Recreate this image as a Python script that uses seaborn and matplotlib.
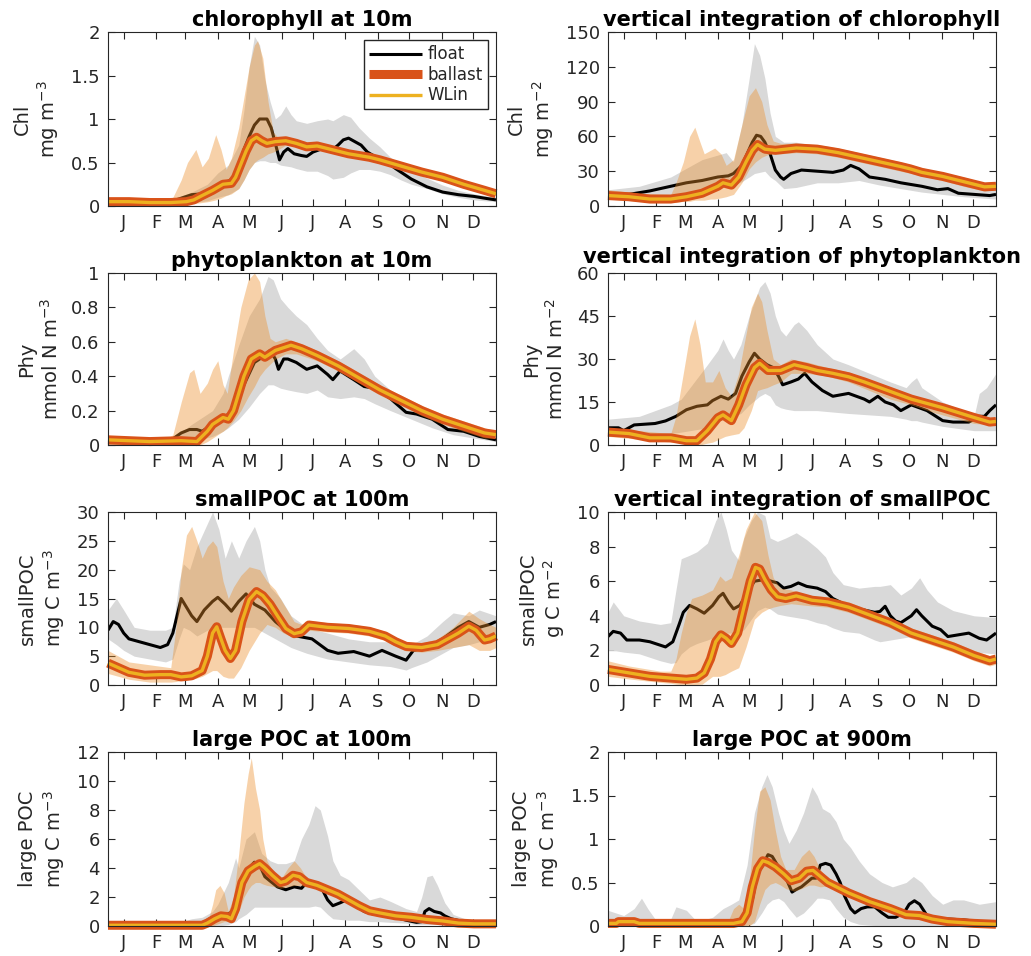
import numpy as np
import matplotlib
matplotlib.use("Agg")
import matplotlib.pyplot as plt
import seaborn as sns

# ---------------- common axis data ----------------
MONTHS = ["J", "F", "M", "A", "M", "J", "J", "A", "S", "O", "N", "D"]
MONTH_DAYS = [15, 46, 74, 105, 135, 166, 196, 227, 258, 288, 319, 349]
XMAX = 371

# ---------------- chlorophyll at 10 m ----------------
chl10_float_x = [0, 30, 60, 70, 80, 90, 100, 110, 120, 125, 130, 135, 140, 145, 152, 156, 160, 164, 168, 172, 178, 185, 190, 196, 205, 215, 220, 225, 230, 236, 242, 248, 255, 265, 275, 290, 305, 320, 335, 350, 360, 371]
chl10_float_y = [0.05, 0.05, 0.05, 0.09, 0.13, 0.14, 0.2, 0.25, 0.32, 0.45, 0.65, 0.8, 0.93, 1.0, 1.0, 0.9, 0.72, 0.53, 0.62, 0.66, 0.6, 0.58, 0.57, 0.62, 0.66, 0.65, 0.7, 0.76, 0.78, 0.74, 0.7, 0.62, 0.57, 0.52, 0.43, 0.31, 0.22, 0.16, 0.13, 0.11, 0.09, 0.07]
chl10_ballast_x = [0, 20, 40, 60, 75, 82, 90, 100, 110, 118, 122, 127, 132, 137, 142, 147, 152, 160, 170, 180, 190, 200, 210, 230, 250, 260, 280, 300, 320, 340, 360, 371]
chl10_ballast_y = [0.05, 0.05, 0.04, 0.04, 0.05, 0.07, 0.12, 0.18, 0.25, 0.26, 0.33, 0.48, 0.63, 0.75, 0.79, 0.75, 0.72, 0.74, 0.75, 0.72, 0.68, 0.69, 0.66, 0.6, 0.56, 0.53, 0.46, 0.39, 0.33, 0.25, 0.18, 0.14]
chl10_fband_x = [0, 60, 80, 95, 105, 115, 125, 130, 135, 140, 145, 150, 155, 160, 165, 170, 175, 180, 190, 200, 210, 215, 225, 232, 240, 250, 260, 270, 280, 290, 305, 320, 335, 350, 371]
chl10_fband_hi = [0.07, 0.07, 0.16, 0.25, 0.38, 0.47, 0.7, 1.1, 1.6, 1.95, 1.85, 1.45, 1.2, 1.0, 1.05, 1.15, 1.05, 0.98, 0.95, 0.98, 1.0, 0.98, 1.05, 1.02, 0.9, 0.78, 0.68, 0.56, 0.48, 0.4, 0.32, 0.24, 0.18, 0.14, 0.1]
chl10_fband_lo = [0.03, 0.03, 0.04, 0.06, 0.1, 0.13, 0.2, 0.3, 0.42, 0.5, 0.52, 0.52, 0.5, 0.5, 0.47, 0.46, 0.45, 0.43, 0.4, 0.4, 0.35, 0.31, 0.33, 0.38, 0.42, 0.42, 0.4, 0.36, 0.3, 0.25, 0.2, 0.14, 0.1, 0.07, 0.05]
chl10_bband_x = [0, 55, 62, 70, 76, 84, 90, 96, 103, 108, 113, 118, 125, 130, 135, 140, 143, 148, 153, 158, 163, 170, 180, 200, 230, 260, 290, 320, 350, 371]
chl10_bband_hi = [0.07, 0.07, 0.1, 0.3, 0.5, 0.65, 0.45, 0.55, 0.82, 0.65, 0.42, 0.55, 0.9, 1.25, 1.6, 1.85, 1.9, 1.7, 1.2, 0.85, 0.78, 0.78, 0.76, 0.72, 0.64, 0.56, 0.47, 0.36, 0.24, 0.17]
chl10_bband_lo = [0.03, 0.03, 0.03, 0.03, 0.03, 0.03, 0.04, 0.05, 0.07, 0.09, 0.12, 0.14, 0.2, 0.3, 0.42, 0.5, 0.53, 0.56, 0.6, 0.62, 0.65, 0.7, 0.69, 0.66, 0.57, 0.5, 0.41, 0.3, 0.2, 0.12]

# ---------------- vertical integration of chlorophyll ----------------
chlint_float_x = [0, 20, 40, 60, 75, 90, 105, 115, 120, 128, 133, 138, 142, 146, 150, 155, 160, 165, 168, 175, 185, 200, 215, 225, 232, 240, 250, 265, 280, 300, 315, 325, 335, 350, 365, 371]
chlint_float_y = [10, 10, 13, 17, 20, 22, 25, 26, 28, 35, 45, 55, 61, 60, 55, 45, 31, 25, 23, 28, 31, 30, 29, 31, 35, 32, 25, 23, 20, 17, 14, 15, 11, 10, 9, 10]
chlint_ballast_x = [0, 20, 40, 60, 75, 90, 105, 110, 118, 125, 132, 138, 143, 150, 160, 180, 200, 220, 240, 260, 280, 289, 300, 320, 340, 360, 371]
chlint_ballast_y = [9, 8, 6, 6, 8, 11, 17, 20, 18, 25, 38, 48, 53, 49, 48, 50, 49, 46, 42, 38, 34, 32, 29, 25.5, 21, 16.5, 17]
chlint_fband_x = [0, 30, 60, 70, 90, 113, 120, 128, 135, 140, 145, 150, 155, 160, 168, 180, 200, 220, 240, 260, 280, 300, 320, 340, 371]
chlint_fband_hi = [14, 17, 25, 30, 40, 46, 38, 70, 110, 140, 130, 110, 80, 60, 55, 55, 52, 48, 45, 38, 32, 27, 22, 18, 14]
chlint_fband_lo = [7, 8, 10, 11, 14, 17, 18, 21, 25, 28, 29, 30, 25, 22, 15, 16, 20, 20, 22, 18, 15, 12, 10, 8, 6]
chlint_bband_x = [0, 30, 60, 65, 72, 78, 83, 88, 92, 98, 102, 108, 113, 120, 128, 135, 141, 147, 152, 158, 165, 180, 200, 220, 240, 260, 280, 300, 320, 340, 360, 371]
chlint_bband_hi = [14, 11, 10, 20, 38, 60, 68, 55, 45, 48, 50, 45, 35, 40, 70, 95, 102, 90, 70, 56, 54, 54, 53, 50, 46, 42, 38, 33, 29, 25, 20, 21]
chlint_bband_lo = [6, 4, 3, 3, 4, 4, 5, 5, 5, 6, 6, 7, 8, 10, 20, 32, 38, 42, 44, 45, 45, 46, 45, 42, 38, 34, 30, 26, 22, 17, 13, 14]

# ---------------- phytoplankton at 10 m ----------------
phy10_float_x = [0, 60, 63, 70, 78, 85, 90, 100, 113, 120, 130, 140, 150, 155, 160, 163, 168, 172, 180, 190, 200, 210, 215, 222, 235, 245, 255, 270, 285, 295, 310, 325, 340, 355, 371]
phy10_float_y = [0.02, 0.02, 0.04, 0.07, 0.09, 0.09, 0.08, 0.12, 0.17, 0.2, 0.35, 0.48, 0.52, 0.55, 0.5, 0.44, 0.5, 0.5, 0.48, 0.44, 0.46, 0.41, 0.38, 0.43, 0.38, 0.34, 0.33, 0.27, 0.19, 0.18, 0.15, 0.09, 0.08, 0.05, 0.03]
phy10_ballast_x = [0, 40, 70, 85, 90, 95, 100, 105, 110, 115, 120, 125, 130, 137, 145, 150, 160, 170, 175, 185, 200, 220, 240, 260, 280, 300, 320, 340, 360, 371]
phy10_ballast_y = [0.03, 0.02, 0.025, 0.02, 0.05, 0.08, 0.12, 0.14, 0.16, 0.15, 0.2, 0.3, 0.4, 0.5, 0.53, 0.51, 0.55, 0.57, 0.58, 0.56, 0.52, 0.46, 0.39, 0.32, 0.26, 0.2, 0.15, 0.11, 0.07, 0.06]
phy10_fband_x = [0, 60, 80, 100, 110, 115, 125, 135, 145, 153, 158, 165, 172, 180, 190, 200, 210, 222, 235, 245, 255, 270, 290, 310, 330, 350, 371]
phy10_fband_hi = [0.04, 0.03, 0.12, 0.2, 0.3, 0.4, 0.58, 0.75, 0.85, 0.98, 0.96, 0.85, 0.8, 0.75, 0.7, 0.62, 0.55, 0.5, 0.56, 0.5, 0.4, 0.32, 0.25, 0.2, 0.14, 0.1, 0.07]
phy10_fband_lo = [0.0, 0.0, 0.02, 0.05, 0.08, 0.1, 0.15, 0.22, 0.3, 0.35, 0.35, 0.33, 0.32, 0.31, 0.3, 0.32, 0.28, 0.27, 0.28, 0.27, 0.24, 0.2, 0.15, 0.1, 0.06, 0.04, 0.02]
phy10_bband_x = [0, 55, 62, 70, 78, 82, 88, 95, 100, 105, 110, 114, 120, 127, 134, 140, 145, 150, 155, 160, 170, 180, 200, 220, 240, 260, 280, 300, 320, 340, 360, 371]
phy10_bband_hi = [0.04, 0.03, 0.06, 0.25, 0.42, 0.44, 0.3, 0.36, 0.44, 0.49, 0.35, 0.3, 0.55, 0.8, 0.96, 1.0, 0.95, 0.75, 0.62, 0.6, 0.62, 0.6, 0.55, 0.49, 0.42, 0.35, 0.29, 0.23, 0.18, 0.14, 0.1, 0.08]
phy10_bband_lo = [0.0, 0.0, 0.0, 0.0, 0.0, 0.0, 0.0, 0.02, 0.04, 0.06, 0.08, 0.1, 0.14, 0.2, 0.28, 0.34, 0.4, 0.44, 0.47, 0.5, 0.53, 0.53, 0.49, 0.43, 0.36, 0.29, 0.23, 0.17, 0.12, 0.08, 0.04, 0.04]

# ---------------- vertical integration of phytoplankton ----------------
phyint_float_x = [0, 10, 15, 25, 45, 55, 65, 75, 85, 95, 100, 108, 115, 122, 128, 135, 140, 145, 152, 158, 163, 167, 175, 182, 188, 195, 205, 215, 230, 245, 250, 258, 265, 273, 280, 290, 305, 320, 330, 345, 355, 360, 365, 371]
phyint_float_y = [6, 6, 5, 7, 7.5, 8.4, 10, 12.3, 13.5, 14, 15.5, 17, 16, 18, 24, 29, 32, 30, 28, 27, 24, 21, 22, 23, 25, 22, 19, 17, 18, 16, 15, 17, 15, 14, 12, 14, 12, 8.5, 8, 8, 10, 10, 12, 14]
phyint_ballast_x = [0, 20, 40, 60, 75, 85, 95, 105, 110, 118, 125, 132, 140, 145, 153, 165, 178, 190, 200, 215, 230, 245, 260, 275, 290, 305, 320, 335, 350, 365, 371]
phyint_ballast_y = [4.5, 4, 2.5, 2.5, 1.5, 1.5, 5, 9.5, 10.5, 8.5, 14, 21, 27, 28.5, 26, 26, 28, 27, 26, 25, 23.8, 22, 20, 18, 16, 14.5, 13, 11.3, 9.6, 8, 8.2]
phyint_fband_x = [0, 30, 60, 70, 95, 105, 110, 115, 120, 127, 135, 145, 150, 155, 160, 165, 170, 178, 182, 190, 200, 215, 230, 250, 270, 285, 290, 295, 300, 320, 340, 350, 355, 362, 371]
phyint_fband_hi = [9, 10, 14, 16, 28, 33, 37, 33, 30, 35, 45, 55, 57, 53, 45, 40, 38, 42, 43, 40, 35, 30, 28, 25, 22, 20, 22, 23.5, 20, 15, 12, 10, 18, 20, 25]
phyint_fband_lo = [3, 3.5, 4, 4.5, 6, 8, 9, 10, 10, 11, 14, 17, 18, 17, 14, 13, 12.5, 12, 12, 12, 12, 11.5, 11, 10.5, 10, 9, 8.5, 8.5, 8, 6.5, 5.5, 5, 5, 5, 5]
phyint_bband_x = [0, 60, 65, 72, 78, 83, 88, 93, 100, 106, 112, 118, 125, 130, 137, 143, 147, 152, 158, 165, 175, 190, 210, 230, 250, 270, 290, 310, 330, 350, 371]
phyint_bband_hi = [6, 4, 10, 25, 38, 44, 35, 22, 22, 26, 20, 17, 25, 35, 48, 53, 50, 40, 30, 28, 30, 29, 27, 25.5, 22.5, 19.5, 17.5, 15, 12.5, 10.5, 9.5]
phyint_bband_lo = [3, 1, 1, 1, 0.5, 0, 0, 0.5, 1, 2, 3, 3.5, 4, 6, 12, 19, 19.5, 20, 21, 22, 25, 25, 24, 22, 19, 16, 14, 11.5, 9.5, 7.5, 7]

# ---------------- smallPOC at 100 m ----------------
spoc100_float_x = [0, 5, 10, 15, 20, 30, 40, 50, 57, 62, 66, 70, 75, 80, 85, 92, 100, 105, 112, 118, 125, 132, 140, 150, 160, 170, 180, 195, 210, 220, 235, 250, 262, 275, 285, 292, 305, 320, 335, 345, 355, 365, 371]
spoc100_float_y = [9.5, 11, 10.5, 9, 8, 7.5, 7, 6.5, 7, 9, 12, 15, 13.5, 12, 11, 13, 14.5, 15.2, 14, 12.8, 14.5, 15.8, 14, 13, 11, 9.5, 8.5, 8, 6, 5.5, 5.8, 5, 6, 5, 4.3, 6, 6.5, 8, 10, 11, 10, 10.5, 11]
spoc100_ballast_x = [0, 10, 20, 35, 50, 60, 70, 80, 90, 95, 100, 104, 108, 112, 117, 122, 128, 135, 142, 148, 155, 162, 170, 178, 185, 192, 210, 230, 250, 265, 275, 285, 300, 315, 325, 335, 345, 352, 360, 365, 371]
spoc100_ballast_y = [3.8, 3, 2.2, 1.7, 1.8, 1.8, 1.4, 1.6, 2.5, 5, 9, 10.1, 8, 6, 4.6, 6, 11, 14.8, 16.2, 15.5, 14, 12, 9.8, 8.9, 9.2, 10.4, 10, 9.8, 9.3, 8.5, 7.5, 6.7, 6.5, 7, 8, 9, 10.2, 9.5, 7.8, 8, 8.5]
spoc100_fband_x = [0, 8, 15, 25, 40, 55, 62, 68, 72, 78, 85, 95, 100, 106, 112, 118, 125, 132, 140, 145, 150, 155, 165, 175, 190, 210, 230, 250, 270, 285, 290, 305, 320, 330, 345, 355, 371]
spoc100_fband_hi = [13, 15, 13, 10, 9.5, 9.5, 10, 18, 21, 20, 24, 28, 30, 27, 22, 25, 22, 25, 27.5, 25, 20, 17, 15, 12, 10, 9, 8, 7.5, 7.5, 7, 7, 8.5, 11, 12.5, 12, 13, 12]
spoc100_fband_lo = [8, 7, 6, 5, 4.5, 4, 4.5, 8, 10, 9.5, 8.5, 9.5, 10, 10, 10, 10, 10, 10, 10, 9.5, 9, 8.5, 7.5, 6.5, 5.5, 4.5, 4, 3.5, 3.2, 2.6, 3, 4, 5.5, 6.5, 7, 7.5, 8]
spoc100_bband_x = [0, 20, 40, 60, 65, 70, 75, 80, 85, 90, 95, 100, 104, 110, 115, 120, 127, 135, 145, 152, 160, 168, 178, 185, 192, 210, 230, 250, 265, 275, 285, 300, 315, 330, 345, 355, 365, 371]
spoc100_bband_hi = [6, 4, 3.5, 3, 10, 20, 26, 27.5, 25, 22, 24, 25, 24, 18, 15, 17, 19, 20.5, 20, 18, 16.5, 14, 11, 10.5, 11.2, 10.8, 10.6, 10.1, 9.3, 8.3, 7.5, 7.3, 8, 10, 12.8, 11.5, 10.5, 10]
spoc100_bband_lo = [2, 1, 0.5, 0.5, 0.6, 0.8, 0.9, 1, 1.2, 1.5, 2, 2.5, 2.5, 1.5, 1.2, 1.2, 3, 6, 9, 10.5, 10, 9, 8.2, 8.4, 9.5, 9.2, 9, 8.5, 7.7, 6.7, 5.9, 5.7, 6, 6.5, 7, 6, 6, 6.5]

# ---------------- vertical integration of smallPOC ----------------
spocint_float_x = [0, 5, 12, 18, 30, 40, 50, 55, 62, 68, 72, 78, 85, 92, 100, 106, 110, 115, 120, 126, 133, 140, 150, 162, 168, 175, 182, 190, 200, 208, 215, 225, 240, 255, 260, 265, 270, 275, 280, 285, 290, 295, 300, 310, 318, 325, 335, 345, 355, 362, 371]
spocint_float_y = [2.8, 3.1, 3.0, 2.6, 2.6, 2.5, 2.3, 2.2, 2.5, 3.5, 4.2, 4.6, 4.4, 4.15, 4.6, 5.1, 5.3, 4.8, 4.4, 4.6, 5.3, 6.0, 6.1, 5.9, 5.6, 5.7, 5.9, 5.7, 5.6, 5.4, 5.0, 4.7, 4.4, 4.2, 4.25, 4.55, 4.0, 3.7, 3.6, 3.8, 4.0, 4.35, 4.0, 3.4, 3.2, 2.8, 2.9, 3.0, 2.7, 2.6, 3.0]
spocint_ballast_x = [0, 20, 40, 60, 75, 85, 92, 98, 103, 108, 113, 118, 124, 130, 136, 141, 145, 150, 156, 162, 170, 180, 195, 210, 230, 250, 270, 290, 310, 330, 350, 365, 371]
spocint_ballast_y = [0.9, 0.7, 0.5, 0.4, 0.33, 0.4, 0.7, 1.5, 2.5, 2.9, 2.7, 2.4, 3.0, 4.5, 6.0, 6.8, 6.7, 6.1, 5.5, 5.1, 5.0, 5.15, 4.9, 4.8, 4.5, 4.05, 3.6, 3.0, 2.6, 2.2, 1.7, 1.4, 1.5]
spocint_fband_x = [0, 5, 15, 30, 50, 60, 65, 70, 78, 85, 95, 103, 108, 113, 118, 125, 130, 137, 143, 150, 155, 162, 170, 180, 190, 200, 208, 215, 225, 240, 255, 260, 270, 280, 290, 298, 305, 315, 330, 350, 371]
spocint_fband_hi = [4.2, 4.8, 4.0, 3.7, 3.5, 3.6, 5.5, 7.3, 7.5, 7.7, 8.2, 9.5, 10, 9.0, 7.8, 7.2, 8.5, 9.5, 10, 9.8, 8.5, 8.3, 8.5, 8.8, 8.4, 7.9, 7.4, 6.5, 5.8, 5.6, 5.7, 5.7, 5.8, 5.2, 5.6, 6.2, 5.5, 4.8, 4.3, 4.0, 3.9]
spocint_fband_lo = [2.0, 2.0, 1.9, 1.8, 1.4, 1.25, 1.3, 1.8, 2.2, 2.4, 2.6, 2.8, 2.9, 3.0, 3.0, 3.0, 3.2, 3.8, 4.3, 4.5, 4.4, 4.1, 4.0, 3.9, 3.8, 3.6, 3.5, 3.3, 3.1, 3.0, 2.6, 2.5, 2.6, 2.7, 2.8, 2.7, 2.6, 2.4, 2.1, 1.9, 1.8]
spocint_bband_x = [0, 20, 50, 60, 65, 70, 75, 80, 90, 100, 107, 112, 118, 125, 132, 140, 147, 153, 158, 165, 175, 190, 210, 230, 250, 270, 290, 310, 330, 350, 365, 371]
spocint_bband_hi = [1.4, 1.1, 0.8, 0.8, 1.5, 3.0, 4.2, 5.0, 5.2, 5.5, 6.3, 6.0, 6.2, 7.5, 9.0, 10, 9.5, 7.5, 6.2, 5.6, 5.5, 5.2, 5.1, 4.8, 4.35, 3.9, 3.3, 2.9, 2.5, 2.0, 1.7, 1.8]
spocint_bband_lo = [0.5, 0.35, 0.15, 0.1, 0.05, 0.02, 0.0, 0.0, 0.05, 0.5, 0.5, 0.6, 0.8, 1.0, 2.2, 3.8, 4.2, 4.4, 4.5, 4.6, 4.7, 4.6, 4.5, 4.2, 3.75, 3.3, 2.7, 2.3, 1.9, 1.4, 1.1, 1.2]

# ---------------- large POC at 100 m ----------------
lpoc100_float_x = [0, 80, 90, 100, 110, 120, 128, 135, 140, 145, 150, 155, 162, 170, 178, 185, 190, 195, 200, 205, 210, 215, 222, 228, 235, 245, 255, 265, 275, 285, 295, 300, 303, 307, 312, 318, 322, 328, 340, 360, 371]
lpoc100_float_y = [0.1, 0.1, 0.2, 0.6, 0.7, 1.0, 2.5, 4.0, 4.4, 4.2, 3.4, 3.1, 2.7, 2.5, 2.7, 2.6, 3.0, 2.9, 2.9, 2.5, 1.8, 1.4, 1.6, 1.8, 1.5, 1.0, 0.8, 0.75, 0.6, 0.4, 0.25, 0.3, 1.0, 1.2, 1.0, 0.9, 0.7, 0.5, 0.3, 0.2, 0.15]
lpoc100_ballast_x = [0, 90, 95, 102, 108, 114, 118, 122, 128, 134, 140, 145, 150, 157, 165, 170, 177, 183, 190, 200, 210, 220, 230, 240, 250, 260, 275, 290, 305, 320, 335, 350, 371]
lpoc100_ballast_y = [0.05, 0.05, 0.2, 0.5, 0.7, 0.65, 0.5, 1.2, 3.0, 3.8, 4.1, 4.3, 4.0, 3.5, 3.0, 3.1, 3.5, 3.4, 3.0, 2.8, 2.5, 2.2, 1.8, 1.4, 1.05, 0.9, 0.7, 0.6, 0.45, 0.35, 0.2, 0.15, 0.15]
lpoc100_fband_x = [0, 60, 70, 80, 90, 100, 105, 115, 122, 125, 132, 140, 147, 155, 162, 170, 178, 185, 192, 198, 203, 210, 215, 222, 230, 240, 250, 260, 270, 285, 295, 300, 305, 310, 315, 322, 330, 345, 371]
lpoc100_fband_hi = [0.2, 0.2, 0.3, 0.5, 0.6, 1.0, 1.5, 3.0, 4.7, 4.0, 6.0, 6.5, 5.0, 4.5, 4.3, 4.3, 4.5, 6.0, 7.0, 8.3, 8.0, 6.2, 4.5, 3.5, 3.2, 2.5, 1.8, 2.0, 1.7, 1.2, 1.0, 2.0, 3.4, 3.5, 2.8, 1.6, 0.8, 0.4, 0.3]
lpoc100_fband_lo = [0, 0, 0, 0, 0, 0, 0, 0.1, 0.3, 0.5, 0.8, 1.3, 1.3, 1.3, 1.3, 1.3, 1.3, 1.3, 1.3, 1.38, 1.3, 0.8, 0.5, 0.45, 0.4, 0.4, 0.3, 0.3, 0.25, 0.2, 0.1, 0.1, 0.1, 0.1, 0.1, 0.05, 0, 0, 0]
lpoc100_bband_x = [0, 95, 100, 103, 107, 111, 115, 120, 125, 130, 134, 137, 141, 145, 148, 152, 160, 165, 172, 178, 184, 190, 200, 220, 240, 260, 290, 320, 350, 371]
lpoc100_bband_hi = [0.15, 0.2, 1.5, 2.5, 2.8, 2.3, 1.0, 2.0, 5.0, 8.5, 10.5, 11.6, 9.5, 8.0, 6.0, 4.5, 3.5, 3.2, 4.0, 4.5, 4.0, 3.3, 3.0, 2.4, 1.6, 1.1, 0.8, 0.55, 0.35, 0.3]
lpoc100_bband_lo = [0, 0, 0, 0.1, 0.2, 0.3, 0.3, 0.4, 1.0, 2.0, 2.5, 2.8, 3.0, 3.0, 2.9, 2.8, 2.7, 2.6, 2.7, 2.8, 2.8, 2.7, 2.6, 2.0, 1.2, 0.7, 0.4, 0.15, 0.0, 0.0]

# ---------------- large POC at 900 m ----------------
lpoc900_float_x = [0, 10, 20, 30, 38, 45, 60, 90, 110, 125, 130, 138, 143, 148, 153, 157, 162, 168, 172, 176, 180, 185, 190, 195, 199, 203, 208, 213, 218, 222, 226, 232, 236, 242, 248, 255, 262, 268, 275, 283, 288, 293, 298, 305, 315, 325, 340, 355, 365, 371]
lpoc900_float_y = [0.05, 0.03, 0.05, 0.04, 0.06, 0.04, 0.04, 0.03, 0.04, 0.05, 0.1, 0.3, 0.6, 0.7, 0.82, 0.8, 0.7, 0.6, 0.5, 0.39, 0.42, 0.45, 0.5, 0.55, 0.55, 0.7, 0.72, 0.7, 0.6, 0.5, 0.35, 0.2, 0.15, 0.2, 0.22, 0.22, 0.15, 0.1, 0.1, 0.15, 0.25, 0.29, 0.25, 0.12, 0.07, 0.08, 0.07, 0.05, 0.04, 0.04]
lpoc900_ballast_x = [0, 8, 10, 25, 30, 120, 128, 133, 138, 143, 148, 153, 160, 168, 175, 183, 190, 196, 202, 210, 230, 250, 270, 285, 298, 310, 325, 350, 371]
lpoc900_ballast_y = [0.03, 0.03, 0.05, 0.05, 0.03, 0.03, 0.05, 0.15, 0.45, 0.66, 0.75, 0.73, 0.68, 0.6, 0.52, 0.55, 0.63, 0.64, 0.58, 0.5, 0.38, 0.28, 0.2, 0.13, 0.12, 0.08, 0.05, 0.03, 0.02]
lpoc900_fband_x = [0, 15, 25, 32, 38, 45, 60, 65, 75, 85, 100, 110, 118, 125, 133, 140, 147, 152, 157, 163, 168, 173, 180, 187, 195, 200, 205, 212, 218, 225, 232, 240, 250, 262, 272, 285, 292, 300, 310, 320, 330, 340, 355, 371]
lpoc900_fband_hi = [0.18, 0.12, 0.2, 0.32, 0.2, 0.08, 0.08, 0.22, 0.18, 0.05, 0.1, 0.2, 0.25, 0.3, 0.7, 1.3, 1.6, 1.74, 1.6, 1.3, 1.1, 0.95, 1.1, 1.3, 1.6, 1.5, 1.35, 1.3, 1.2, 1.0, 0.9, 0.75, 0.6, 0.5, 0.45, 0.5, 0.57, 0.5, 0.35, 0.25, 0.3, 0.3, 0.25, 0.28]
lpoc900_fband_lo = [0, 0, 0, 0, 0, 0, 0, 0, 0, 0, 0, 0, 0, 0, 0.01, 0.03, 0.15, 0.25, 0.3, 0.32, 0.28, 0.2, 0.1, 0.15, 0.25, 0.32, 0.32, 0.3, 0.2, 0.1, 0.05, 0.02, 0.01, 0, 0, 0, 0, 0, 0, 0, 0, 0, 0, 0]
lpoc900_bband_x = [0, 115, 120, 125, 130, 135, 140, 145, 150, 155, 160, 165, 170, 178, 185, 192, 197, 203, 210, 230, 250, 270, 290, 310, 330, 350, 371]
lpoc900_bband_hi = [0.06, 0.06, 0.2, 0.25, 0.2, 0.5, 1.1, 1.55, 1.6, 1.45, 1.1, 0.8, 0.65, 0.65, 0.8, 0.88, 0.8, 0.65, 0.54, 0.42, 0.32, 0.24, 0.17, 0.12, 0.08, 0.06, 0.05]
lpoc900_bband_lo = [0, 0, 0, 0, 0, 0, 0.05, 0.25, 0.42, 0.48, 0.5, 0.47, 0.43, 0.4, 0.43, 0.47, 0.47, 0.45, 0.46, 0.34, 0.24, 0.16, 0.1, 0.05, 0.02, 0.0, 0.0]

# ---------------- panel descriptions ----------------
titles = ["chlorophyll at 10m", "vertical integration of chlorophyll",
          "phytoplankton at 10m", "vertical integration of phytoplankton",
          "smallPOC at 100m", "vertical integration of smallPOC",
          "large POC at 100m", "large POC at 900m"]
ylabels = ["Chl\nmg m$^{-3}$", "Chl\nmg m$^{-2}$",
           "Phy\nmmol N m$^{-3}$", "Phy\nmmol N m$^{-2}$",
           "smallPOC\nmg C m$^{-3}$", "smallPOC\ng C m$^{-2}$",
           "large POC\nmg C m$^{-3}$", "large POC\nmg C m$^{-3}$"]
yticks = [[0, 0.5, 1, 1.5, 2], [0, 30, 60, 90, 120, 150],
          [0, 0.2, 0.4, 0.6, 0.8, 1], [0, 15, 30, 45, 60],
          [0, 5, 10, 15, 20, 25, 30], [0, 2, 4, 6, 8, 10],
          [0, 2, 4, 6, 8, 10, 12], [0, 0.5, 1, 1.5, 2]]

panels = [
    (chl10_float_x, chl10_float_y, chl10_ballast_x, chl10_ballast_y, chl10_fband_x, chl10_fband_lo, chl10_fband_hi, chl10_bband_x, chl10_bband_lo, chl10_bband_hi),
    (chlint_float_x, chlint_float_y, chlint_ballast_x, chlint_ballast_y, chlint_fband_x, chlint_fband_lo, chlint_fband_hi, chlint_bband_x, chlint_bband_lo, chlint_bband_hi),
    (phy10_float_x, phy10_float_y, phy10_ballast_x, phy10_ballast_y, phy10_fband_x, phy10_fband_lo, phy10_fband_hi, phy10_bband_x, phy10_bband_lo, phy10_bband_hi),
    (phyint_float_x, phyint_float_y, phyint_ballast_x, phyint_ballast_y, phyint_fband_x, phyint_fband_lo, phyint_fband_hi, phyint_bband_x, phyint_bband_lo, phyint_bband_hi),
    (spoc100_float_x, spoc100_float_y, spoc100_ballast_x, spoc100_ballast_y, spoc100_fband_x, spoc100_fband_lo, spoc100_fband_hi, spoc100_bband_x, spoc100_bband_lo, spoc100_bband_hi),
    (spocint_float_x, spocint_float_y, spocint_ballast_x, spocint_ballast_y, spocint_fband_x, spocint_fband_lo, spocint_fband_hi, spocint_bband_x, spocint_bband_lo, spocint_bband_hi),
    (lpoc100_float_x, lpoc100_float_y, lpoc100_ballast_x, lpoc100_ballast_y, lpoc100_fband_x, lpoc100_fband_lo, lpoc100_fband_hi, lpoc100_bband_x, lpoc100_bband_lo, lpoc100_bband_hi),
    (lpoc900_float_x, lpoc900_float_y, lpoc900_ballast_x, lpoc900_ballast_y, lpoc900_fband_x, lpoc900_fband_lo, lpoc900_fband_hi, lpoc900_bband_x, lpoc900_bband_lo, lpoc900_bband_hi),
]

# ---------------- style ----------------
sns.set_theme(style="white")
plt.rcParams["font.family"] = ["DejaVu Sans"]
plt.rcParams["mathtext.fontset"] = "dejavusans"

DARK = "#262626"
C_FLOAT = "black"
C_BALLAST = "#D95319"
C_WLIN = "#EDB120"
C_FBAND = "#d9d9d9"
C_BBAND = "#EB8E2A"

fig = plt.figure(figsize=(10.31, 9.56), dpi=100)
W, H = 1031.0, 956.0
col_left = [108, 608]
col_w = 388
rows = [(32, 206), (273, 445), (512, 685), (752, 926)]

for i, (fx, fy, bx, by, gx, glo, ghi, ox, olo, ohi) in enumerate(panels):
    r, c = divmod(i, 2)
    top, bot = rows[r]
    ax = fig.add_axes([col_left[c] / W, 1 - bot / H, col_w / W, (bot - top) / H])

    ax.fill_between(gx, glo, ghi, color=C_FBAND, linewidth=0, zorder=1)
    sns.lineplot(x=np.array(fx), y=np.array(fy), ax=ax, color=C_FLOAT, linewidth=2.2,
                 sort=False, estimator=None, zorder=2, solid_capstyle="butt",
                 label="float" if i == 0 else None)
    ax.fill_between(ox, olo, ohi, color=C_BBAND, alpha=0.4, linewidth=0, zorder=3)
    sns.lineplot(x=np.array(bx), y=np.array(by), ax=ax, color=C_BALLAST, linewidth=6.5,
                 sort=False, estimator=None, zorder=4, clip_on=False, solid_capstyle="butt",
                 label="ballast" if i == 0 else None)
    sns.lineplot(x=np.array(bx), y=np.array(by), ax=ax, color=C_WLIN, linewidth=2.4,
                 sort=False, estimator=None, zorder=5, clip_on=False, solid_capstyle="butt",
                 label="WLin" if i == 0 else None)

    yt = yticks[i]
    ax.set_xlim(0, XMAX)
    ax.set_ylim(0, yt[-1])
    ax.set_xticks(MONTH_DAYS)
    ax.set_xticklabels(MONTHS)
    ax.set_yticks(yt)
    ax.set_yticklabels([f"{t:g}" for t in yt])
    ax.tick_params(direction="in", length=5, width=0.8, top=True, right=True,
                   bottom=True, left=True, colors=DARK, labelsize=13, pad=6)
    for s in ax.spines.values():
        s.set_visible(True)
        s.set_color(DARK)
        s.set_linewidth(0.8)
        s.set_zorder(6)
    title_pad = 7.5 if i == 3 else 4
    ax.set_title(titles[i], fontsize=15, fontweight="bold", pad=title_pad, color="black")
    ax.set_ylabel(ylabels[i], fontsize=14, color=DARK, labelpad=7)
    ax.set_xlabel("")

    if i == 0:
        ax.legend(loc="upper right", fontsize=12, frameon=True, fancybox=False,
                  edgecolor=DARK, framealpha=1, handlelength=3.2, borderpad=0.3,
                  labelspacing=0.15, handletextpad=0.3, borderaxespad=0.5)
    else:
        leg = ax.get_legend()
        if leg is not None:
            leg.remove()

fig.savefig("out.png", dpi=100)
